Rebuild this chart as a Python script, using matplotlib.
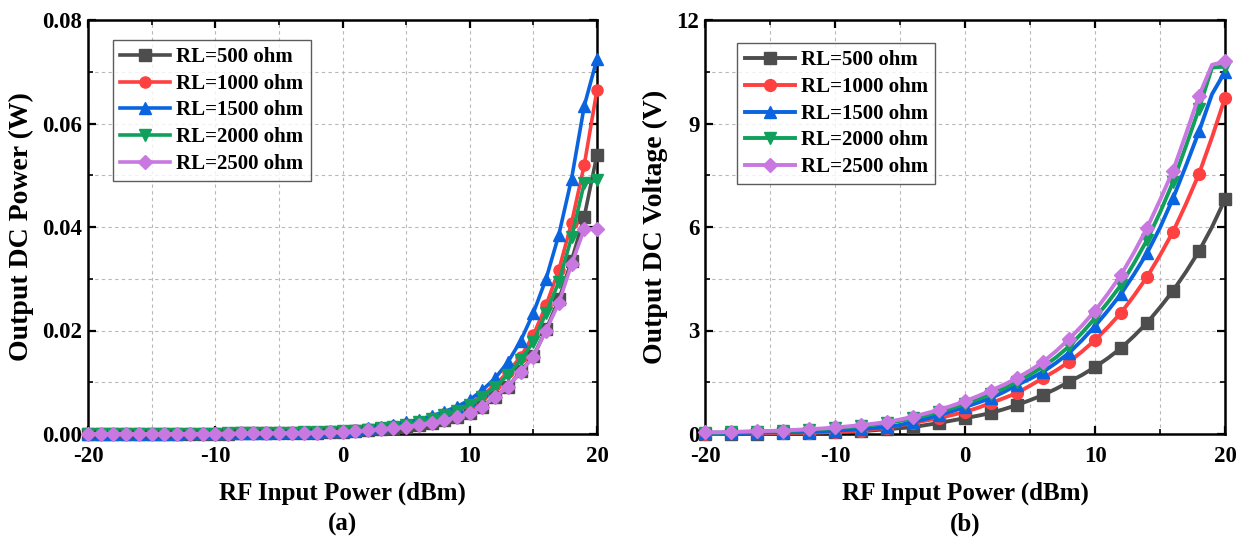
import numpy as np
import matplotlib.pyplot as plt
from matplotlib.ticker import MultipleLocator

plt.rcParams['font.family'] = 'Liberation Serif'
plt.rcParams['font.weight'] = 'bold'
plt.rcParams['axes.unicode_minus'] = False

# RF input power (dBm), 1 dBm steps
pin = list(range(-20, 21))

labels = ['RL=500 ohm', 'RL=1000 ohm', 'RL=1500 ohm', 'RL=2000 ohm', 'RL=2500 ohm']
colors = ['#4d4d4d', '#ff4040', '#0a64e0', '#10a05c', '#c878e0']
markers = ['s', 'o', '^', 'v', 'D']

# (a) output DC power (W)
p_500 = [0.00001, 0.00001, 0.00002, 0.00002, 0.00002, 0.00003, 0.00003, 0.00004, 0.00005, 0.00006,
         0.00007, 0.00008, 0.0001, 0.00012, 0.00014, 0.00017, 0.0002, 0.00024, 0.00028, 0.00033,
         0.0004, 0.0005, 0.0007, 0.0009, 0.0012, 0.0014, 0.0018, 0.0022, 0.0027, 0.0033,
         0.004, 0.0053, 0.0072, 0.0091, 0.0121, 0.015, 0.0202, 0.026, 0.0335, 0.042, 0.054]
p_1000 = [0.00001, 0.00002, 0.00002, 0.00003, 0.00003, 0.00004, 0.00005, 0.00006, 0.00007, 0.00008,
          0.0001, 0.00012, 0.00014, 0.00017, 0.0002, 0.00024, 0.00028, 0.00033, 0.00038, 0.00044,
          0.0005, 0.0007, 0.0009, 0.0012, 0.0015, 0.0019, 0.0024, 0.003, 0.0038, 0.0047,
          0.0058, 0.0075, 0.0095, 0.012, 0.0149, 0.0191, 0.0249, 0.0317, 0.0408, 0.052, 0.0665]
p_1500 = [0.00002, 0.00003, 0.00003, 0.00004, 0.00005, 0.00006, 0.00007, 0.00009, 0.0001, 0.00012,
          0.00014, 0.00017, 0.0002, 0.00023, 0.00027, 0.0003, 0.00035, 0.0004, 0.00045, 0.0005,
          0.0006, 0.0008, 0.0011, 0.0014, 0.0018, 0.0023, 0.0028, 0.0035, 0.0043, 0.0053,
          0.0066, 0.0085, 0.0108, 0.0139, 0.018, 0.0234, 0.030, 0.0385, 0.0493, 0.0634, 0.0725]
p_2000 = [0.00001, 0.00002, 0.00002, 0.00002, 0.00003, 0.00003, 0.00004, 0.00005, 0.00006, 0.00007,
          0.00009, 0.0001, 0.00012, 0.00015, 0.00018, 0.00021, 0.00025, 0.0003, 0.00035, 0.0004,
          0.0005, 0.0006, 0.0008, 0.0011, 0.0014, 0.0018, 0.0023, 0.0029, 0.0036, 0.0045,
          0.0056, 0.0072, 0.0091, 0.0114, 0.0143, 0.0178, 0.0234, 0.0294, 0.038, 0.0485, 0.049]
p_2500 = [0.00001, 0.00001, 0.00002, 0.00002, 0.00002, 0.00003, 0.00003, 0.00004, 0.00005, 0.00006,
          0.00007, 0.00008, 0.0001, 0.00012, 0.00014, 0.00017, 0.0002, 0.00024, 0.00028, 0.00033,
          0.0004, 0.0005, 0.0007, 0.0009, 0.0011, 0.0014, 0.0018, 0.0022, 0.0027, 0.0033,
          0.004, 0.0053, 0.0072, 0.0091, 0.012, 0.0149, 0.020, 0.0253, 0.0328, 0.0396, 0.0396]

# (b) output DC voltage (V)
v_500 = [0.0, 0.0, 0.01, 0.01, 0.01, 0.015, 0.02, 0.025, 0.03, 0.04,
         0.05, 0.065, 0.08, 0.11, 0.14, 0.17, 0.20, 0.26, 0.32, 0.39,
         0.46, 0.53, 0.61, 0.72, 0.84, 0.98, 1.13, 1.31, 1.51, 1.71,
         1.94, 2.20, 2.49, 2.84, 3.22, 3.67, 4.15, 4.70, 5.30, 6.00, 6.80]
v_1000 = [0.01, 0.01, 0.02, 0.02, 0.02, 0.03, 0.03, 0.04, 0.04, 0.05,
          0.06, 0.08, 0.10, 0.14, 0.18, 0.25, 0.32, 0.39, 0.46, 0.55,
          0.64, 0.76, 0.90, 1.04, 1.19, 1.40, 1.62, 1.84, 2.09, 2.39,
          2.72, 3.10, 3.51, 4.01, 4.55, 5.18, 5.86, 6.67, 7.54, 8.60, 9.74]
v_1500 = [0.02, 0.02, 0.03, 0.03, 0.04, 0.05, 0.05, 0.06, 0.07, 0.08,
          0.10, 0.12, 0.14, 0.17, 0.20, 0.26, 0.35, 0.44, 0.55, 0.66,
          0.78, 0.91, 1.04, 1.22, 1.42, 1.60, 1.80, 2.06, 2.35, 2.72,
          3.13, 3.58, 4.06, 4.63, 5.24, 5.98, 6.83, 7.78, 8.77, 9.85, 10.50]
v_2000 = [0.04, 0.04, 0.05, 0.06, 0.07, 0.08, 0.09, 0.10, 0.12, 0.14,
          0.17, 0.20, 0.23, 0.27, 0.32, 0.38, 0.45, 0.54, 0.64, 0.75,
          0.87, 1.01, 1.16, 1.32, 1.51, 1.72, 1.95, 2.22, 2.54, 2.93,
          3.36, 3.82, 4.32, 4.95, 5.62, 6.42, 7.30, 8.35, 9.43, 10.62, 10.65]
v_2500 = [0.05, 0.05, 0.06, 0.07, 0.08, 0.09, 0.10, 0.12, 0.14, 0.16,
          0.19, 0.22, 0.26, 0.30, 0.35, 0.42, 0.50, 0.60, 0.70, 0.82,
          0.95, 1.10, 1.26, 1.43, 1.62, 1.84, 2.09, 2.40, 2.75, 3.14,
          3.57, 4.07, 4.61, 5.26, 5.97, 6.78, 7.63, 8.70, 9.80, 10.70, 10.80]

power = [p_500, p_1000, p_1500, p_2000, p_2500]
voltage = [v_500, v_1000, v_1500, v_2000, v_2500]

fig = plt.figure(figsize=(12.47, 5.39), dpi=100)
ax1 = fig.add_axes([88/1247, 1-434/539, 509/1247, 414/539])
ax2 = fig.add_axes([705/1247, 1-434/539, 520/1247, 414/539])


def style(ax, ymax, ymaj, ylabel, letter, legpos):
    ax.set_xlim(-20, 20)
    ax.set_ylim(0, ymax)
    ax.xaxis.set_major_locator(MultipleLocator(10))
    ax.xaxis.set_minor_locator(MultipleLocator(5))
    ax.yaxis.set_major_locator(MultipleLocator(ymaj))
    ax.yaxis.set_minor_locator(MultipleLocator(ymaj/2))
    ax.grid(True, which='both', color='#b8b8b8', linestyle=(0, (3, 3)), linewidth=0.8)
    ax.set_axisbelow(True)
    ax.tick_params(which='major', direction='in', length=6, width=1.6, labelsize=16.5,
                   top=True, right=True, pad=4)
    ax.tick_params(axis='x', which='major', pad=9)
    ax.tick_params(which='minor', direction='in', length=3.5, width=1.2, top=True, right=True)
    for s in ax.spines.values():
        s.set_linewidth(1.8)
    for lab in ax.get_xticklabels() + ax.get_yticklabels():
        lab.set_fontweight('bold')
    ax.set_xlabel('RF Input Power (dBm)', fontsize=18, fontweight='bold', labelpad=10)
    ax.set_ylabel(ylabel, fontsize=20, fontweight='bold', labelpad=6)
    ax.text(0.5, -0.218, letter, transform=ax.transAxes, ha='center', va='center',
            fontsize=18, fontweight='bold')
    leg = ax.legend(loc='upper left', bbox_to_anchor=legpos, frameon=True, fancybox=False,
                    edgecolor='#333333', prop={'size': 15, 'weight': 'bold'},
                    handlelength=2.4, handletextpad=0.3, labelspacing=0.32, borderpad=0.35,
                    borderaxespad=0)
    leg.get_frame().set_linewidth(1.0)


for i in range(5):
    ax1.plot(pin, power[i], color=colors[i], marker=markers[i],
             markersize=8 if markers[i] != 'D' else 7,
             linewidth=2.6, label=labels[i], clip_on=False, zorder=3 + i * 0.1)
    ax2.plot(pin, voltage[i], color=colors[i], marker=markers[i], markevery=2,
             markersize=8.5 if markers[i] != 'D' else 7.5, linewidth=2.8, label=labels[i],
             clip_on=False, zorder=3 + i * 0.1)

style(ax1, 0.08, 0.02, 'Output DC Power (W)', '(a)', (0.049, 0.952))
style(ax2, 12, 3, 'Output DC Voltage (V)', '(b)', (0.062, 0.944))
ax1.yaxis.set_major_formatter(plt.FormatStrFormatter('%.2f'))

fig.savefig('out.png', dpi=100)
